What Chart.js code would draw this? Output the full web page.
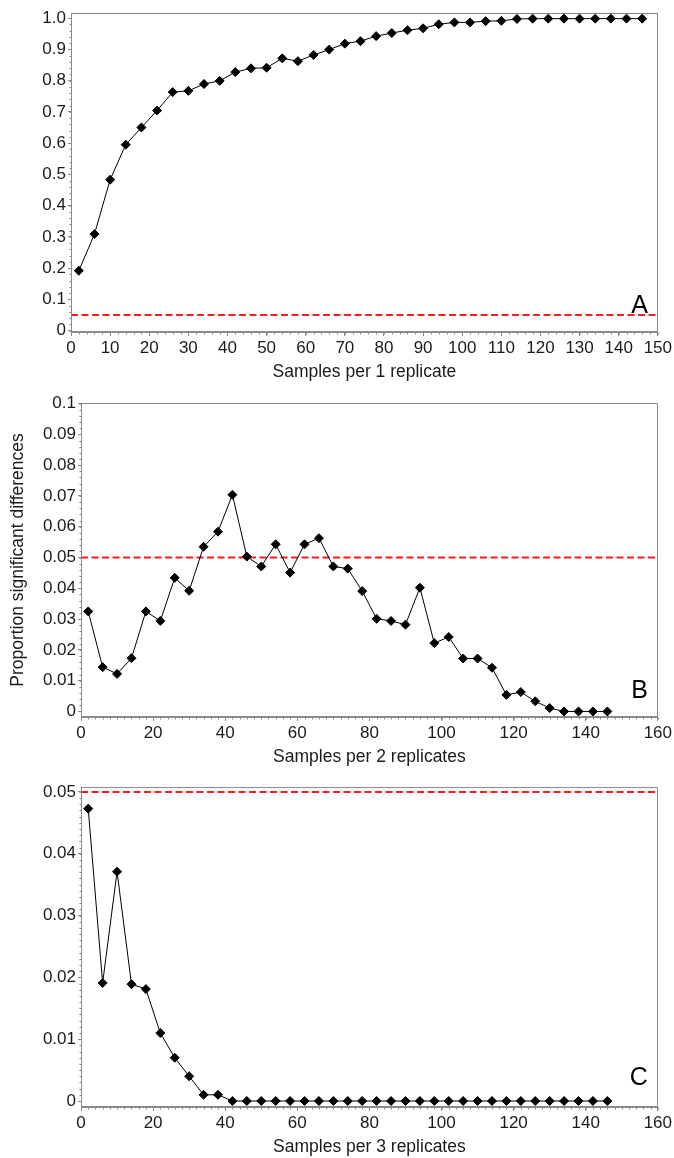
<!DOCTYPE html>
<html>
<head>
<meta charset="utf-8">
<script src="https://cdn.jsdelivr.net/npm/chart.js"></script>
<style>
  body { margin: 0; background: #fff; }
  canvas { position: absolute; left: 0; }
</style>
</head>
<body>
<canvas id="panelA" width="674" height="383" style="top:0px"></canvas>
<canvas id="panelB" width="674" height="385" style="top:383px"></canvas>
<canvas id="panelC" width="674" height="390" style="top:768px"></canvas>
<script>
// samples per replicate (x) and proportion of significant differences (y)
const samples = [2, 6, 10, 14, 18, 22, 26, 30, 34, 38, 42, 46, 50, 54, 58, 62, 66, 70, 74,
  78, 82, 86, 90, 94, 98, 102, 106, 110, 114, 118, 122, 126, 130, 134, 138, 142, 146];

const propA = [0.192, 0.309, 0.483, 0.595, 0.650, 0.704, 0.763, 0.767, 0.789, 0.799,
  0.827, 0.839, 0.841, 0.871, 0.862, 0.882, 0.899, 0.918, 0.926, 0.942,
  0.952, 0.961, 0.967, 0.980, 0.986, 0.986, 0.990, 0.991, 0.997, 0.998,
  0.998, 0.998, 0.998, 0.998, 0.998, 0.998, 0.998];

const propB = [0.0325, 0.0144, 0.0122, 0.0173, 0.0325, 0.0294, 0.0434, 0.0392, 0.0535, 0.0584,
  0.0704, 0.0503, 0.0471, 0.0543, 0.0451, 0.0543, 0.0563, 0.0471, 0.0464, 0.0391,
  0.0301, 0.0294, 0.0282, 0.0402, 0.0222, 0.0242, 0.0172, 0.0172, 0.0142, 0.0054,
  0.0063, 0.0033, 0.0011, 0, 0, 0, 0];

const propC = [0.0473, 0.0191, 0.0371, 0.0189, 0.0181, 0.0110, 0.0070, 0.0040, 0.0010, 0.0010,
  0, 0, 0, 0, 0, 0, 0, 0, 0, 0,
  0, 0, 0, 0, 0, 0, 0, 0, 0, 0,
  0, 0, 0, 0, 0, 0, 0];

const threshold = 0.05;

const xTicksA = [0, 10, 20, 30, 40, 50, 60, 70, 80, 90, 100, 110, 120, 130, 140, 150];
const xTicksBC = [0, 20, 40, 60, 80, 100, 120, 140, 160];

const yTicksA = [0, 0.1, 0.2, 0.3, 0.4, 0.5, 0.6, 0.7, 0.8, 0.9, 1.0];
const yLabelsA = ['0', '0.1', '0.2', '0.3', '0.4', '0.5', '0.6', '0.7', '0.8', '0.9', '1.0'];
const yTicksB = [0, 0.01, 0.02, 0.03, 0.04, 0.05, 0.06, 0.07, 0.08, 0.09, 0.1];
const yLabelsB = ['0', '0.01', '0.02', '0.03', '0.04', '0.05', '0.06', '0.07', '0.08', '0.09', '0.1'];
const yTicksC = [0, 0.01, 0.02, 0.03, 0.04, 0.05];
const yLabelsC = ['0', '0.01', '0.02', '0.03', '0.04', '0.05'];

const AXIS_GREY = '#8a8a8a';
Chart.defaults.font.family = '"Liberation Sans", Arial, sans-serif';
Chart.defaults.color = '#1a1a1a';

// box round the plot, small minor ticks, and the panel letter
const panelDeco = {
    id: 'panelDeco',
    afterDraw(chart, args, opts) {
        const ctx = chart.ctx;
        const a = chart.chartArea;
        const xs = chart.scales.x, ys = chart.scales.y;
        ctx.save();
        ctx.strokeStyle = AXIS_GREY;
        ctx.lineWidth = 1;
        ctx.strokeRect(Math.round(a.left) + 0.5, Math.round(a.top) + 0.5,
            Math.round(a.right - a.left) - 1, Math.round(a.bottom - a.top) - 1);

        ctx.beginPath();
        const yb = Math.round(a.bottom) + 0.5;
        for (let i = 0; ; i++) {
            const v = xs.min + i * opts.xMinor;
            if (v > xs.max + 1e-9) break;
            const px = Math.round(xs.getPixelForValue(v)) + 0.5;
            ctx.moveTo(px, yb);
            ctx.lineTo(px, yb + 2);
        }
        const xl = Math.round(a.left) + 0.5;
        const first = Math.ceil(ys.min / opts.yMinor - 1e-9);
        for (let i = first; ; i++) {
            const v = i * opts.yMinor;
            if (v > ys.max + 1e-9) break;
            const py = Math.round(ys.getPixelForValue(v)) + 0.5;
            ctx.moveTo(xl, py);
            ctx.lineTo(xl - 2, py);
        }
        ctx.stroke();

        ctx.fillStyle = '#000';
        ctx.font = '25px "Liberation Sans", Arial, sans-serif';
        ctx.textAlign = 'right';
        ctx.textBaseline = 'alphabetic';
        ctx.fillText(opts.letter, a.right - opts.dx, a.bottom - opts.dy);
        ctx.restore();
    }
};

function makePanel(id, p) {
    const pts = samples.map((s, i) => ({ x: s, y: p.values[i] }));
    const ref = [{ x: p.xMin, y: threshold }, { x: p.xMax, y: threshold }];
    return new Chart(document.getElementById(id), {
        type: 'line',
        data: {
            datasets: [{
                data: pts,
                borderColor: '#000',
                borderWidth: 1,
                pointStyle: 'rectRot',
                pointRadius: 4.5,
                pointBackgroundColor: '#000',
                pointBorderColor: '#000',
                pointBorderWidth: 1,
                tension: 0,
                clip: false,
                order: 0
            }, {
                data: ref,
                borderColor: '#ff1a1a',
                borderWidth: 2,
                borderDash: [7, 3.5],
                pointRadius: 0,
                order: 1
            }]
        },
        options: {
            responsive: false,
            animation: false,
            events: [],
            layout: { padding: { top: p.padTop, right: 15, left: 0, bottom: 0 } },
            plugins: {
                legend: { display: false },
                tooltip: { enabled: false },
                panelDeco: { letter: p.letter, dx: 10, dy: p.letterDy, xMinor: 2, yMinor: p.yMinor }
            },
            scales: {
                x: {
                    type: 'linear',
                    min: p.xMin,
                    max: p.xMax,
                    afterBuildTicks: s => { s.ticks = p.xTicks.map(v => ({ value: v })); },
                    afterFit: s => { s.height = 51; },
                    grid: { drawOnChartArea: false, drawTicks: true, tickLength: 4, color: AXIS_GREY },
                    border: { display: true, color: AXIS_GREY },
                    ticks: { autoSkip: false, maxRotation: 0, padding: 2, font: { size: 17 } },
                    title: { display: true, text: p.xTitle, font: { size: 17.5 }, padding: 0 }
                },
                y: {
                    type: 'linear',
                    min: p.yMin,
                    max: p.yMax,
                    afterBuildTicks: s => { s.ticks = p.yTicks.map(v => ({ value: v })); },
                    afterFit: s => { s.width = p.yWidth; },
                    grid: { drawOnChartArea: false, drawTicks: true, tickLength: 3, color: AXIS_GREY },
                    border: { display: true, color: AXIS_GREY },
                    ticks: {
                        autoSkip: false, padding: 2, font: { size: 17 },
                        callback: (v, i) => p.yLabels[i]
                    },
                    title: {
                        display: !!p.yTitle, text: p.yTitle || '',
                        font: { size: 17.5 }, padding: { top: 8, bottom: 8 }
                    }
                }
            }
        },
        plugins: [panelDeco]
    });
}

makePanel('panelA', {
    values: propA, letter: 'A', letterDy: 19, padTop: 13,
    xMin: 0, xMax: 150, xTicks: xTicksA, xTitle: 'Samples per 1 replicate',
    yMin: -0.004, yMax: 1.016, yTicks: yTicksA, yLabels: yLabelsA, yMinor: 0.02, yWidth: 71
});

makePanel('panelB', {
    values: propB, letter: 'B', letterDy: 19, padTop: 20,
    xMin: 0, xMax: 160, xTicks: xTicksBC, xTitle: 'Samples per 2 replicates',
    yMin: -0.0018, yMax: 0.1002, yTicks: yTicksB, yLabels: yLabelsB, yMinor: 0.002, yWidth: 81,
    yTitle: 'Proportion significant differences'
});

makePanel('panelC', {
    values: propC, letter: 'C', letterDy: 22, padTop: 19,
    xMin: 0, xMax: 160, xTicks: xTicksBC, xTitle: 'Samples per 3 replicates',
    yMin: -0.00097, yMax: 0.0508, yTicks: yTicksC, yLabels: yLabelsC, yMinor: 0.001, yWidth: 81
});
</script>
</body>
</html>
